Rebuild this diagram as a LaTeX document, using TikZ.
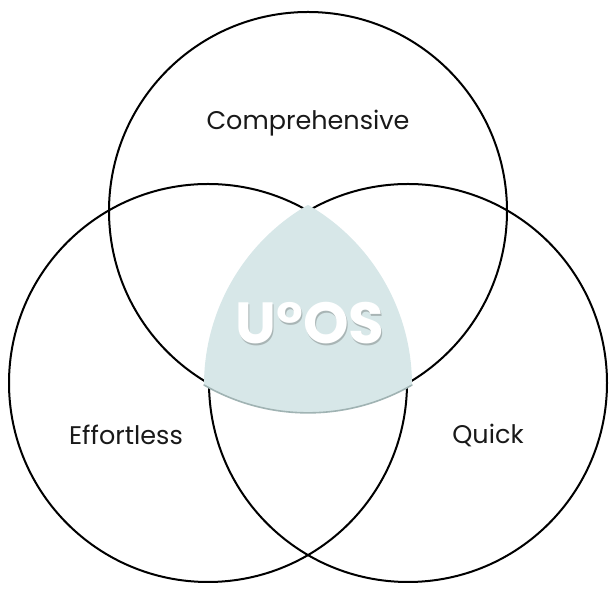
\documentclass[tikz,border=0pt]{standalone}
\usepackage{fontspec}
\setmainfont{Poppins}
\definecolor{uosfill}{HTML}{D7E7E8}
\definecolor{uosedge}{HTML}{A0B3B3}
\definecolor{uosshade}{HTML}{A9B5B5}
\begin{document}
\begin{tikzpicture}[x=1pt, y=1pt, line cap=round, line join=round,
    ring/.style={line width=2pt, black},
    label/.style={font=\fontsize{25.5}{28}\selectfont, text=black!90, inner sep=0pt},
    brand/.style={font=\fontsize{58}{62}\selectfont\bfseries, inner sep=0pt}]
    \useasboundingbox (0,0) rectangle (616,596);
    % the three sets
    \draw[ring] (308,385) circle[radius=199];
    \draw[ring] (208,213) circle[radius=199];
    \draw[ring] (408,213) circle[radius=199];
    % shared core
    \coordinate (cornerL) at (204,211);
    \coordinate (cornerR) at (412,211);
    \fill[uosfill] (cornerL) arc[start angle=180, end angle=120, radius=208]
      arc[start angle=60, end angle=0, radius=208]
      arc[start angle=-60, end angle=-120, radius=208] -- cycle;
    \draw[uosedge, line width=1.6pt] (cornerR) arc[start angle=-60, end angle=-120, radius=208];
    % texts
    \node[label] (comp) at (308,473) {Comprehensive};
    \node[label] (effort) at (126,161) {Effortless};
    \node[label] (quick) at (488,161) {Quick};
    \node[brand, text=uosshade] (uosshadow) at (311,270.5) {U°OS};
    \node[brand, text=white] (uos) at (310,273) {U°OS};
\end{tikzpicture}
\end{document}
